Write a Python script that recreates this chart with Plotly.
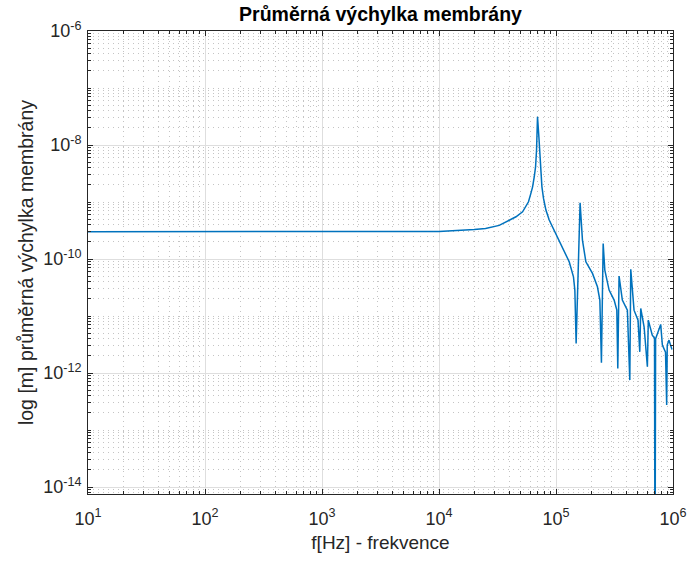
import plotly.graph_objects as go

# Frequencies [Hz] and mean membrane displacement [m]
freq_hz = [
    10, 100, 1000, 5000, 1.0e4, 2.0e4, 2.5e4, 3.27e4, 4.55e4, 5.18e4, 5.54e4, 5.82e4, 6.1e4,
    6.31e4, 6.52e4, 6.69e4, 6.82e4,
    6.95e4,
    7.14e4, 7.28e4, 7.43e4, 7.58e4, 7.82e4, 8.2e4, 8.75e4, 9.34e4, 1.03e5, 1.137e5, 1.297e5,
    1.41e5, 1.449e5, 1.486e5,
    1.607e5, 1.683e5, 1.8e5, 2.05e5, 2.26e5, 2.37e5, 2.445e5,
    2.53e5, 2.614e5, 2.844e5, 3.14e5, 3.31e5, 3.374e5,
    3.46e5, 3.69e5, 4.074e5, 4.274e5,
    4.355e5, 4.645e5, 5.024e5, 5.2e5,
    5.3e5, 5.66e5, 6.04e5,
    6.15e5, 6.65e5, 6.95e5, 7.02e5,
    7.1e5, 7.85e5, 8.11e5, 8.63e5, 8.83e5,
    8.93e5, 9.24e5, 9.8e5,
]
displacement_m = [
    3.01e-10, 3.01e-10, 3.01e-10, 3.03e-10, 3.06e-10, 3.3e-10, 3.44e-10, 3.9e-10, 5.52e-10, 6.76e-10, 8.27e-10, 1.01e-9, 1.42e-9,
    1.85e-9, 2.78e-9, 4.16e-9, 8.17e-9,
    3.13e-8,
    1.4e-8, 7.15e-9, 3.64e-9, 1.85e-9, 1.16e-9, 7.24e-10, 4.83e-10, 3.69e-10, 2.31e-10, 1.54e-10, 8.97e-11,
    4.89e-11, 2.86e-11, 3.32e-12,
    9.72e-10, 2.15e-10, 8.97e-11, 5.61e-11, 3.27e-11, 1.91e-11, 1.52e-12,
    1.88e-10, 6.41e-11, 2.86e-11, 1.91e-11, 1.27e-11, 1.21e-12,
    5.03e-11, 1.91e-11, 1.27e-11, 7.54e-13,
    6.6e-11, 1.27e-11, 8.5e-12, 2.36e-12,
    1.36e-11, 6.49e-12, 1.29e-12,
    8.5e-12, 4.64e-12, 4.11e-12, 1e-16,
    4.0e-12, 7.15e-12, 3.1e-12, 2.34e-12, 2.75e-13,
    3.1e-12, 3.79e-12, 2.6e-12,
]

x_tick_vals = [1e1, 1e2, 1e3, 1e4, 1e5, 1e6]
x_tick_text = ["10<sup>1</sup>", "10<sup>2</sup>", "10<sup>3</sup>",
               "10<sup>4</sup>", "10<sup>5</sup>", "10<sup>6</sup>"]
y_tick_vals = [1e-14, 1e-12, 1e-10, 1e-8, 1e-6]
y_tick_text = ["10<sup>-14</sup>", "10<sup>-12</sup>", "10<sup>-10</sup>",
               "10<sup>-8</sup>", "10<sup>-6</sup>"]

title_text = "Průměrná výchylka membrány"
x_label = "f[Hz] - frekvence"
y_label = "log [m] průměrná výchylka membrány"

axis_color = "#262626"
font_family = "Liberation Sans, Arial, sans-serif"

fig = go.Figure()
fig.add_trace(go.Scatter(
    x=freq_hz, y=displacement_m, mode="lines",
    line=dict(color="#0072BD", width=1.5),
    showlegend=False,
))

minor_style = dict(dtick="D1", showgrid=True, gridcolor="#c4c4c4", griddash="1px,4px",
                   ticks="inside", ticklen=3, tickcolor=axis_color, gridwidth=1)

common = dict(
    type="log",
    showline=True, linecolor=axis_color, linewidth=1, mirror="ticks",
    ticks="inside", ticklen=5, tickcolor=axis_color,
    showgrid=True, gridcolor="#dedede", gridwidth=1,
    tickfont=dict(family=font_family, size=18, color=axis_color),
    zeroline=False,
    minor=minor_style,
)

fig.update_xaxes(
    **common,
    range=[1, 6], tickmode="array", tickvals=x_tick_vals, ticktext=x_tick_text,
    ticklabelstandoff=8,
    title=dict(text=x_label, font=dict(family=font_family, size=19, color=axis_color), standoff=8),
)
fig.update_yaxes(
    **common,
    range=[-14.12, -6], tickmode="array", tickvals=y_tick_vals, ticktext=y_tick_text,
    ticklabelstandoff=2,
    title=dict(text=y_label, font=dict(family=font_family, size=19.5, color=axis_color), standoff=4),
)

fig.update_layout(
    width=689, height=561,
    margin=dict(l=88, r=16, t=31, b=67, autoexpand=False),
    paper_bgcolor="white", plot_bgcolor="white",
    title=dict(text="<b>" + title_text + "</b>", x=(88 + 673) / 2 / 689, xanchor="center",
               y=1 - 14 / 561, yanchor="middle",
               font=dict(family=font_family, size=19.5, color="black")),
)

fig.write_html("out.html")
